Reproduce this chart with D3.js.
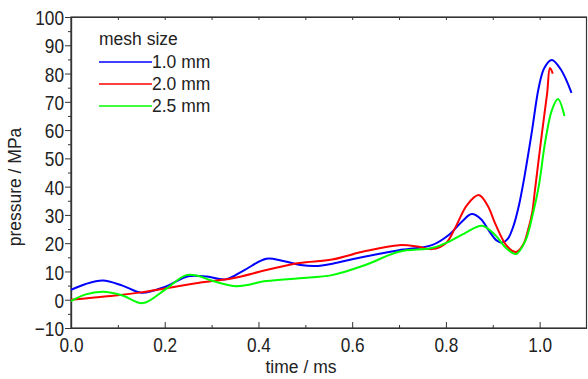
<!DOCTYPE html>
<html>
<head>
<meta charset="utf-8">
<script src="https://cdn.jsdelivr.net/npm/d3@7"></script>
<style>
  body { margin: 0; background: #fff; }
  svg { display: block; }
  text { font-family: "Liberation Sans", Arial, sans-serif; fill: #222; }
</style>
</head>
<body>
<script>
// values (time in ms, pressure in MPa)
const seriesNames = ["1.0 mm", "2.0 mm", "2.5 mm"];
const seriesColors = ["#0000ff", "#ff0000", "#00ff00"];

const time1 = [0.0, 0.03, 0.068, 0.11, 0.15, 0.2, 0.25, 0.29, 0.33, 0.37, 0.417, 0.45, 0.49, 0.52, 0.56, 0.6, 0.65, 0.7, 0.77, 0.806, 0.835, 0.855, 0.875, 0.891, 0.908, 0.92, 0.932, 0.945, 0.956, 0.966, 0.983, 0.998, 1.01, 1.026, 1.045, 1.068];
const press1 = [3.5, 5.5, 6.8, 5.0, 2.5, 4.5, 8.3, 8.2, 7.2, 10.5, 14.5, 13.8, 12.3, 11.9, 12.8, 14.3, 16.0, 17.5, 19.3, 22.9, 27.8, 30.3, 28.5, 24.6, 21.0, 20.2, 21.5, 26.5, 33.5, 42.0, 59.0, 75.0, 82.0, 84.8, 81.5, 73.2];

const time2 = [0.0, 0.05, 0.1, 0.15, 0.2, 0.274, 0.345, 0.417, 0.487, 0.557, 0.628, 0.7, 0.74, 0.77, 0.8, 0.82, 0.845, 0.87, 0.89, 0.905, 0.93, 0.95, 0.965, 0.975, 0.984, 0.99, 1.005, 1.016, 1.022, 1.028];
const press2 = [0.0, 0.8, 1.6, 2.6, 4.0, 6.0, 7.6, 10.5, 13.0, 14.2, 17.2, 19.3, 18.8, 17.9, 20.0, 25.5, 33.5, 37.0, 33.0, 27.0, 19.0, 16.9, 19.5, 24.5, 30.7, 38.8, 59.0, 73.0, 82.0, 80.0];

const time3 = [0.0, 0.03, 0.068, 0.11, 0.153, 0.2, 0.246, 0.274, 0.296, 0.352, 0.417, 0.487, 0.557, 0.628, 0.7, 0.77, 0.806, 0.84, 0.877, 0.905, 0.93, 0.95, 0.97, 0.985, 0.998, 1.012, 1.026, 1.039, 1.053];
const press3 = [-0.5, 1.8, 2.8, 1.5, -1.2, 3.5, 8.7, 8.3, 7.0, 4.8, 6.6, 7.6, 8.7, 12.3, 17.0, 18.3, 20.5, 23.5, 26.2, 22.9, 18.0, 16.2, 21.0, 30.0, 40.0, 56.0, 67.0, 71.0, 65.0];

const allTimes = [time1, time2, time3];
const allPress = [press1, press2, press3];

const xMajor = [0, 0.2, 0.4, 0.6, 0.8, 1.0];
const xMinor = [0.1, 0.3, 0.5, 0.7, 0.9];
const yMajor = [-10, 0, 10, 20, 30, 40, 50, 60, 70, 80, 90, 100];
const yMinor = [-5, 5, 15, 25, 35, 45, 55, 65, 75, 85, 95];

const width = 588, height = 379;
const margin = {top: 17, right: 1.5, bottom: 51, left: 71};
const squeeze = 0.82; // tick labels are a narrow face

const svg = d3.select("body").append("svg")
  .attr("width", width)
  .attr("height", height);

const x = d3.scaleLinear().domain([0, 1.1]).range([margin.left, width - margin.right]);
const y = d3.scaleLinear().domain([-10, 100]).range([height - margin.bottom, margin.top]);

// frame
svg.append("rect")
  .attr("x", x(0)).attr("y", y(100))
  .attr("width", x(1.1) - x(0)).attr("height", y(-10) - y(100))
  .attr("fill", "none").attr("stroke", "#333").attr("stroke-width", 1.2);

// y axis: ticks point outward
const yAxis = svg.append("g").attr("transform", `translate(${x(0)},0)`)
  .call(d3.axisLeft(y).tickValues(yMajor).tickSize(6).tickPadding(2).tickFormat(d3.format("d")));
svg.append("g").attr("transform", `translate(${x(0)},0)`)
  .call(d3.axisLeft(y).tickValues(yMinor).tickSize(3).tickFormat(""));

// x axis: ticks point inward
const xAxis = svg.append("g").attr("transform", `translate(0,${y(-10)})`)
  .call(d3.axisBottom(x).tickValues(xMajor).tickSizeInner(-6).tickSizeOuter(0).tickPadding(9).tickFormat(d3.format(".1f")));
svg.append("g").attr("transform", `translate(0,${y(-10)})`)
  .call(d3.axisBottom(x).tickValues(xMinor).tickSizeInner(-3).tickSizeOuter(0).tickFormat(""));

// top frame ticks
svg.append("g").attr("transform", `translate(0,${y(100)})`)
  .call(d3.axisTop(x).tickValues(xMajor.concat(xMinor)).tickSizeInner(-3).tickSizeOuter(0).tickFormat(""));

svg.selectAll(".domain").attr("stroke", "#333").attr("stroke-width", 1.2);
svg.selectAll(".tick line").attr("stroke", "#333");
svg.selectAll(".tick text").style("font-size", "21px").attr("fill", "#222")
  .attr("transform", `scale(${squeeze},1)`);
yAxis.selectAll(".tick text").attr("dy", "0.36em").attr("x", -7 / squeeze);

// curves
const line = d3.line()
  .x(d => x(d[0]))
  .y(d => y(d[1]))
  .curve(d3.curveCatmullRom.alpha(0.5));

seriesNames.forEach((name, i) => {
  const pts = allTimes[i].map((t, j) => [t, allPress[i][j]]);
  svg.append("path")
    .datum(pts)
    .attr("d", line)
    .attr("fill", "none")
    .attr("stroke", seriesColors[i])
    .attr("stroke-width", 2);
});

// axis titles
svg.append("text")
  .attr("x", 301).attr("y", 373)
  .attr("text-anchor", "middle")
  .style("font-size", "17.5px")
  .text("time / ms");

svg.append("text")
  .attr("transform", "translate(21,187) rotate(-90)")
  .attr("text-anchor", "middle")
  .style("font-size", "17.5px")
  .text("pressure / MPa");

// legend
const legend = svg.append("g");
legend.append("text")
  .attr("x", 99).attr("y", 45)
  .style("font-size", "17.5px")
  .text("mesh size");

seriesNames.forEach((name, i) => {
  const ly = 62 + i * 22;
  legend.append("line")
    .attr("x1", 99).attr("x2", 152)
    .attr("y1", ly).attr("y2", ly)
    .attr("stroke", seriesColors[i])
    .attr("stroke-width", 1.5);
  legend.append("text")
    .attr("x", 152).attr("y", ly + 6)
    .style("font-size", "17.5px")
    .text(name);
});
</script>
</body>
</html>
